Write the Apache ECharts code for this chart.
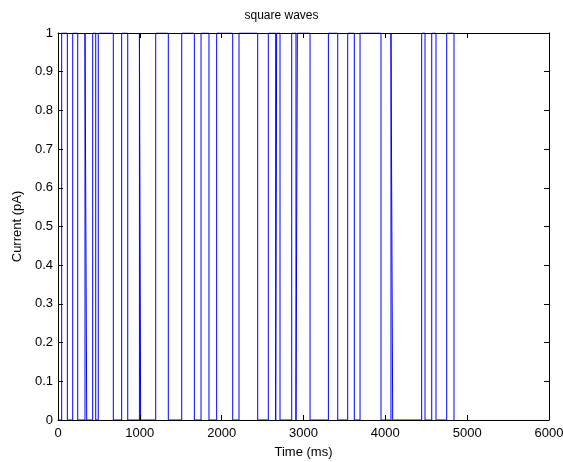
<!DOCTYPE html>
<html><head><meta charset="utf-8">
<script src="https://cdn.jsdelivr.net/npm/echarts@6/dist/echarts.min.js"></script>
<style>html,body{margin:0;padding:0;background:#fff}#c{width:563px;height:462px}</style>
</head><body><div id="c"></div>
<script>
const chartTitle = 'square waves';
const xName = 'Time (ms)';
const yName = 'Current (pA)';
const startPoint = [0, 0];
const transitionTimes = [45,114,180,241,330,351,424,461,492,676,778,852,995,1010,1194,1348,1512,1666,1748,1845,1939,2135,2212,2440,2570,2660,2672,2713,2856,2908,2925,3080,3304,3418,3540,3621,3691,3947,4069,4090,4444,4485,4567,4619,4750,4839];
const levels = [1,0,1,0,1,0,1,0,1,0,1,0,1,0,1,0,1,0,1,0,1,0,1,0,1,0,1,0,1,0,1,0,1,0,1,0,1,0,1,0,1,0,1,0,1,0];
const xMin = 0, xMax = 6000, xStep = 1000;
const yMin = 0, yMax = 1, yStep = 0.1;

const data = [startPoint].concat(transitionTimes.map((t, i) => [t, levels[i]]));
const font = 'Liberation Sans, Arial, sans-serif';
const axisCommon = {
  axisLine: {show: true, onZero: false, lineStyle: {color: '#000', width: 1}},
  axisTick: {show: true, inside: true, length: 5, lineStyle: {color: '#000'}},
  splitLine: {show: false},
  z: 5
};
const chart = echarts.init(document.getElementById('c'), null, {renderer: 'canvas'});
chart.setOption({
  animation: false,
  backgroundColor: '#fff',
  title: {text: chartTitle, left: 'center', top: 5, textStyle: {fontFamily: font, fontSize: 12, fontWeight: 'normal', color: '#000'}},
  grid: {left: 58, right: 14, top: 33, bottom: 42, containLabel: false, outerBoundsMode: 'none'},
  xAxis: [
    Object.assign({type: 'value', min: xMin, max: xMax, interval: xStep, position: 'bottom',
      name: xName, nameLocation: 'middle', nameGap: 26,
      nameTextStyle: {fontFamily: font, fontSize: 13, color: '#000'},
      axisLabel: {fontFamily: font, fontSize: 13, color: '#000', margin: 7, formatter: v => String(v)}}, axisCommon),
    Object.assign({type: 'value', min: xMin, max: xMax, interval: xStep, position: 'top',
      axisLabel: {show: false}}, axisCommon)
  ],
  yAxis: [
    Object.assign({type: 'value', min: yMin, max: yMax, interval: yStep, position: 'left',
      name: yName, nameLocation: 'middle', nameGap: 33,
      nameTextStyle: {fontFamily: font, fontSize: 13, color: '#000'},
      axisLabel: {fontFamily: font, fontSize: 13, color: '#000', margin: 5, formatter: v => String(Math.round(v * 10) / 10)}}, axisCommon),
    Object.assign({type: 'value', min: yMin, max: yMax, interval: yStep, position: 'right',
      axisLabel: {show: false}}, axisCommon)
  ],
  series: [{
    type: 'line', step: 'end', data: data, showSymbol: false, symbol: 'none',
    xAxisIndex: 0, yAxisIndex: 0, z: 1,
    lineStyle: {color: '#0000ff', width: 1}
  }]
});
</script></body></html>
